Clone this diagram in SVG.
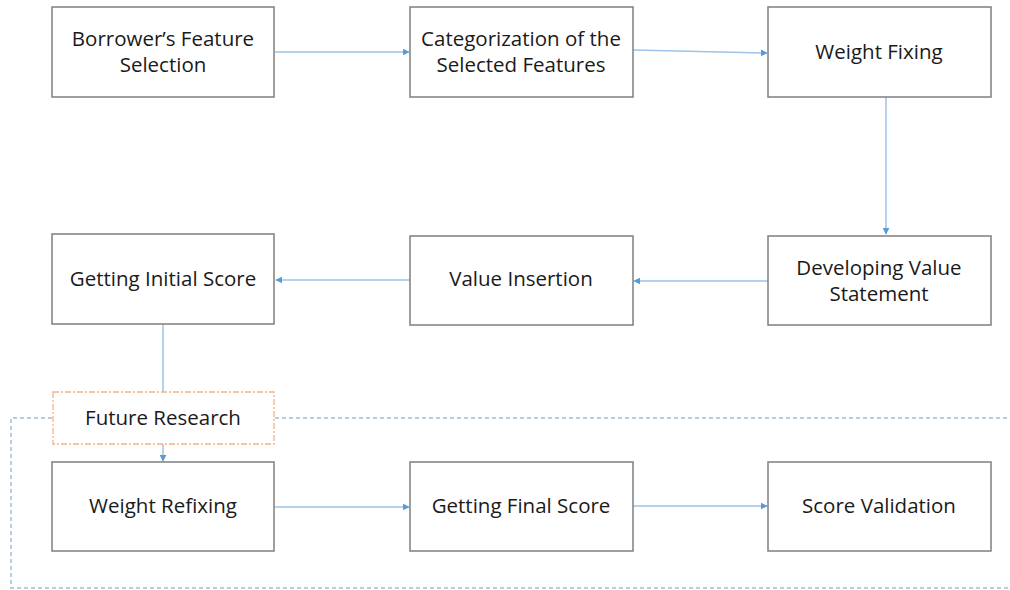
<svg xmlns="http://www.w3.org/2000/svg" width="1010" height="590" viewBox="0 0 1010 590">
  <defs>
    <marker id="arrow" viewBox="0 0 10 10" refX="9" refY="5" markerWidth="7" markerHeight="7" markerUnits="userSpaceOnUse" orient="auto">
      <path d="M0,0 L10,5 L0,10 z" fill="#5b9bd5"/>
    </marker>
  </defs>
  <style>
    .box { fill: #ffffff; stroke: #7f7f7f; stroke-width: 1.5; }
    .label { font-family: "Open Sans", "Liberation Sans", sans-serif; font-size: 20.5px; fill: #1a1a1a; text-anchor: middle; }
    .conn { fill: none; stroke: #9dc3e6; stroke-width: 1.5; }
    .loop { fill: none; stroke: #9dbcd9; stroke-width: 1.5; stroke-dasharray: 4 3; }
    .future { fill: #ffffff; stroke: #f4b183; stroke-width: 1.3; stroke-dasharray: 6 2 2 2; }
  </style>
  <rect width="1010" height="590" fill="#ffffff"/>

  <!-- connectors -->
  <g id="connectors">
    <path class="conn" d="M275,52 L409,52" marker-end="url(#arrow)"/>
    <path class="conn" d="M633,50 L767,53" marker-end="url(#arrow)"/>
    <path class="conn" d="M886,97 L886,234" marker-end="url(#arrow)"/>
    <path class="conn" d="M768,281 L634,281" marker-end="url(#arrow)"/>
    <path class="conn" d="M410,280 L276,280" marker-end="url(#arrow)"/>
    <path class="conn" d="M163,324 L163,392"/>
    <path class="conn" d="M163,444 L163,461" marker-end="url(#arrow)"/>
    <path class="conn" d="M275,507 L409,507" marker-end="url(#arrow)"/>
    <path class="conn" d="M633,506 L767,506" marker-end="url(#arrow)"/>
    <!-- dashed boundary around the future-research stage -->
    <path class="loop" d="M275,418 L1010,418"/>
    <path class="loop" d="M52,418 L11,418 L11,588 L1010,588"/>
  </g>

  <g id="n1">
    <rect class="box" x="52" y="7" width="222" height="90"/>
    <text class="label" x="163" y="46">Borrower’s Feature</text>
    <text class="label" x="163" y="72">Selection</text>
  </g>
  <g id="n2">
    <rect class="box" x="410" y="7" width="223" height="90"/>
    <text class="label" x="521" y="46">Categorization of the</text>
    <text class="label" x="521" y="72">Selected Features</text>
  </g>
  <g id="n3">
    <rect class="box" x="768" y="7" width="223" height="90"/>
    <text class="label" x="879" y="59">Weight Fixing</text>
  </g>
  <g id="n4">
    <rect class="box" x="768" y="236" width="223" height="89"/>
    <text class="label" x="879" y="275">Developing Value</text>
    <text class="label" x="879" y="301">Statement</text>
  </g>
  <g id="n5">
    <rect class="box" x="410" y="236" width="223" height="89"/>
    <text class="label" x="521" y="286">Value Insertion</text>
  </g>
  <g id="n6">
    <rect class="box" x="52" y="234" width="222" height="90"/>
    <text class="label" x="163" y="286">Getting Initial Score</text>
  </g>
  <g id="n7">
    <rect class="future" x="53" y="392" width="221" height="52"/>
    <text class="label" x="163" y="425">Future Research</text>
  </g>
  <g id="n8">
    <rect class="box" x="52" y="462" width="222" height="89"/>
    <text class="label" x="163" y="513">Weight Refixing</text>
  </g>
  <g id="n9">
    <rect class="box" x="410" y="462" width="223" height="89"/>
    <text class="label" x="521" y="513">Getting Final Score</text>
  </g>
  <g id="n10">
    <rect class="box" x="768" y="462" width="223" height="89"/>
    <text class="label" x="879" y="513">Score Validation</text>
  </g>
</svg>
